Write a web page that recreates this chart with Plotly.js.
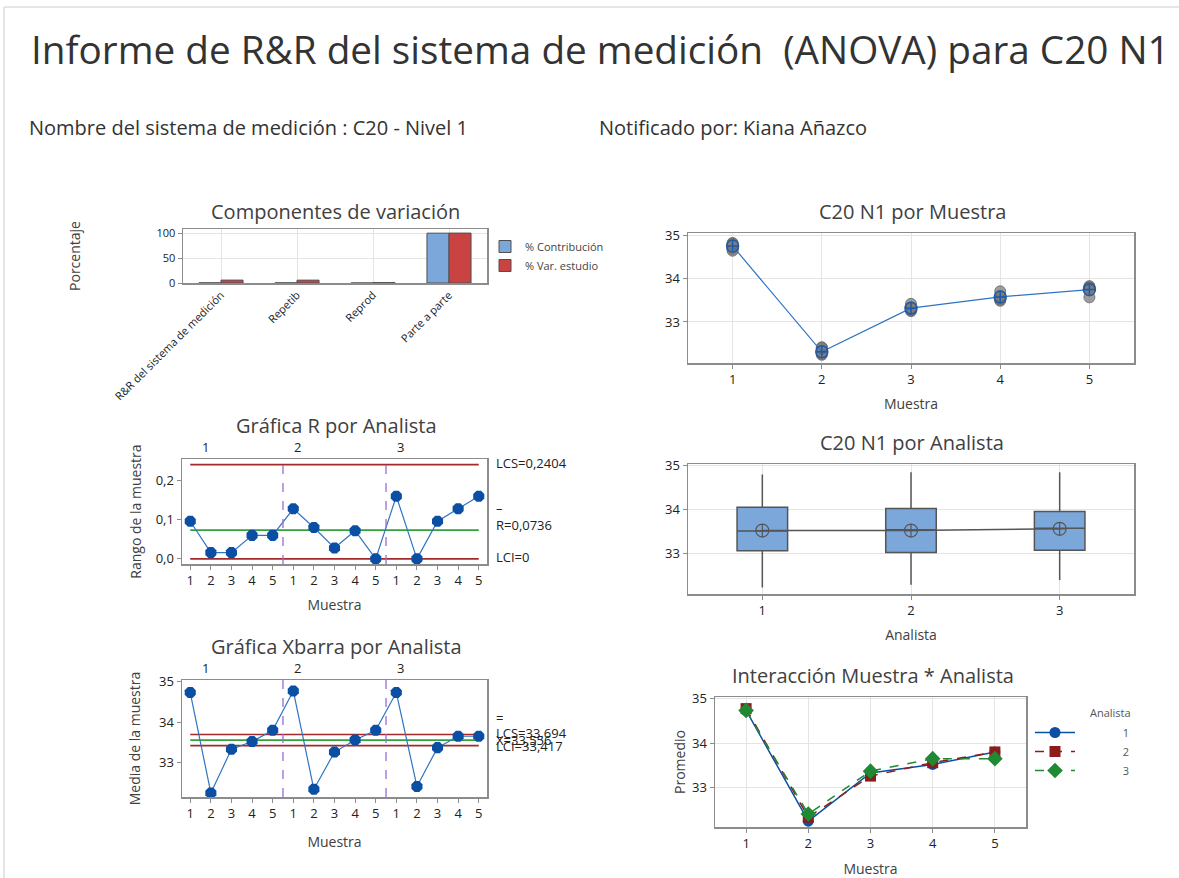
<!DOCTYPE html>
<html>
<head>
<meta charset="utf-8">
<script src="https://cdn.plot.ly/plotly-3.0.1.min.js"></script>
<style>
html,body{margin:0;padding:0;background:#fff;}
#chart{width:1179px;height:878px;}
</style>
</head>
<body>
<div id="chart"></div>
<script>
// ---------------- DATA ----------------
const componentes = ["R&R del sistema de medición", "Repetib", "Reprod", "Parte a parte"];
const pctContribucion = [0.34, 0.33, 0.01, 99.66];
const pctVarEstudio = [5.8, 5.7, 0.8, 99.83];

const muestras = [1, 2, 3, 4, 5];
const lecturasM1 = [34.68, 34.78, 34.71, 34.83, 34.65, 34.81];
const lecturasM2 = [32.24, 32.26, 32.30, 32.38, 32.41, 32.41];
const lecturasM3 = [33.32, 33.34, 33.25, 33.27, 33.32, 33.42];
const lecturasM4 = [33.49, 33.55, 33.52, 33.60, 33.59, 33.71];
const lecturasM5 = [33.77, 33.83, 33.80, 33.80, 33.57, 33.73];
const mediaPorMuestra = [34.76, 32.31, 33.32, 33.58, 33.75];

const etiquetasMuestra = ["1","2","3","4","5","1","2","3","4","5","1","2","3","4","5"];
const analistas = ["1", "2", "3"];
const rangoA1 = [0.096, 0.016, 0.016, 0.060, 0.060];
const rangoA2 = [0.128, 0.080, 0.028, 0.072, 0.000];
const rangoA3 = [0.160, 0.000, 0.096, 0.128, 0.160];
const rLCS = 0.2404, rMedia = 0.0736, rLCI = 0;

const mediaA1 = [34.73, 32.25, 33.33, 33.52, 33.80];
const mediaA2 = [34.77, 32.34, 33.26, 33.56, 33.80];
const mediaA3 = [34.73, 32.41, 33.37, 33.65, 33.65];
const xLCS = 33.694, xMedia = 33.556, xLCI = 33.417;

const boxQ1 = [33.07, 33.03, 33.08];
const boxMediana = [33.52, 33.55, 33.58];
const boxQ3 = [34.06, 34.03, 33.96];
const boxMin = [32.24, 32.30, 32.41];
const boxMax = [34.80, 34.85, 34.85];
const boxMedia = [33.53, 33.53, 33.57];

// ---------------- HELPERS ----------------
const W = 1179, H = 878;
const dX = (a, b) => [a / W, b / W];
const dY = (t, b) => [1 - b / H, 1 - t / H];
const FONT = "Open Sans, Noto Sans, sans-serif";
const TXT = "#404040";

function frame(extra) {
  return Object.assign({
    showline: true, mirror: true, linecolor: "#8c8c8c", linewidth: 1.5,
    ticks: "outside", ticklen: 4, tickcolor: "#8c8c8c",
    tickfont: {size: 13, color: "#222"}, zeroline: false, fixedrange: true,
    showgrid: false, gridcolor: "#e4e4e4", gridwidth: 1
  }, extra);
}

const idx15 = etiquetasMuestra.map((_, i) => i + 1);
const muestraRepetida = [].concat(
  lecturasM1.map(() => muestras[0]), lecturasM2.map(() => muestras[1]),
  lecturasM3.map(() => muestras[2]), lecturasM4.map(() => muestras[3]),
  lecturasM5.map(() => muestras[4]));
const lecturasTodas = [].concat(lecturasM1, lecturasM2, lecturasM3, lecturasM4, lecturasM5);

const blueM = "#0a4fa3", blueL = "#2f74c4";
const redL = "#a42a2a", greenL = "#33a03f", purple = "#9c6bd8";

// ---------------- TRACES ----------------
const traces = [];
// A: components
traces.push({type: "bar", x: componentes, y: pctContribucion, name: "% Contribución",
  marker: {color: "#7ba7da", line: {color: "#505050", width: 1}}, xaxis: "x", yaxis: "y", legend: "legend"});
traces.push({type: "bar", x: componentes, y: pctVarEstudio, name: "% Var. estudio",
  marker: {color: "#c94343", line: {color: "#505050", width: 1}}, xaxis: "x", yaxis: "y", legend: "legend"});

// B: by sample
traces.push({type: "scatter", mode: "markers", x: muestraRepetida, y: lecturasTodas,
  marker: {color: "rgba(125,125,125,0.75)", size: 11, line: {color: "rgba(100,100,100,0.8)", width: 1}},
  xaxis: "x2", yaxis: "y2", showlegend: false});
traces.push({type: "scatter", mode: "lines+markers", x: muestras, y: mediaPorMuestra,
  line: {color: blueL, width: 1.2},
  marker: {symbol: "circle-cross-open", size: 12, color: "#1d5aa8", line: {width: 1.5}},
  xaxis: "x2", yaxis: "y2", showlegend: false});

// C: R chart
const rAll = [].concat(rangoA1, rangoA2, rangoA3);
traces.push({type: "scatter", mode: "lines+markers", x: idx15, y: rAll,
  line: {color: blueL, width: 1.2}, marker: {symbol: "octagon", size: 12, color: blueM},
  xaxis: "x3", yaxis: "y3", showlegend: false});

// D: Xbar chart
const xAll = [].concat(mediaA1, mediaA2, mediaA3);
traces.push({type: "scatter", mode: "lines+markers", x: idx15, y: xAll,
  line: {color: blueL, width: 1.2}, marker: {symbol: "octagon", size: 12, color: blueM},
  xaxis: "x5", yaxis: "y5", showlegend: false});

// E: box plot by analyst
traces.push({type: "box", x: [1, 2, 3], q1: boxQ1, median: boxMediana, q3: boxQ3,
  lowerfence: boxMin, upperfence: boxMax, width: 0.34, whiskerwidth: 0,
  fillcolor: "#7ba7da", line: {color: "#555", width: 1.5}, boxpoints: false,
  xaxis: "x4", yaxis: "y4", showlegend: false, hoverinfo: "skip"});
traces.push({type: "scatter", mode: "lines+markers", x: [1, 2, 3], y: boxMedia,
  line: {color: "#555", width: 1.5},
  marker: {symbol: "circle-cross-open", size: 13, color: "#555", line: {width: 1.2}},
  xaxis: "x4", yaxis: "y4", showlegend: false});

// F: interaction
const pad = "\u00a0".repeat(15);
traces.push({type: "scatter", mode: "lines+markers", x: muestras, y: mediaA1, name: pad + analistas[0],
  line: {color: blueM, width: 1.5}, marker: {symbol: "circle", size: 11, color: blueM},
  xaxis: "x6", yaxis: "y6", legend: "legend2"});
traces.push({type: "scatter", mode: "lines+markers", x: muestras, y: mediaA2, name: pad + analistas[1],
  line: {color: "#8e1b1b", width: 1.5, dash: "dash"}, marker: {symbol: "square", size: 11, color: "#8e1b1b"},
  xaxis: "x6", yaxis: "y6", legend: "legend2"});
traces.push({type: "scatter", mode: "lines+markers", x: muestras, y: mediaA3, name: pad + analistas[2],
  line: {color: "#1f8a33", width: 1.5, dash: "dash"}, marker: {symbol: "diamond", size: 12, color: "#1f8a33"},
  xaxis: "x6", yaxis: "y6", legend: "legend2"});

// ---------------- SHAPES / ANNOTATIONS ----------------
const shapes = [
  {type: "line", xref: "paper", yref: "paper", x0: 4 / W, x1: 1, y0: 1 - 7 / H, y1: 1 - 7 / H, line: {color: "#dcdcdc", width: 1.5}},
  {type: "line", xref: "paper", yref: "paper", x0: 4 / W, x1: 4 / W, y0: 0, y1: 1 - 7 / H, line: {color: "#dcdcdc", width: 1.5}}
];
function ctrlLine(xr, yr, y, color) {
  shapes.push({type: "line", xref: xr, yref: yr, x0: idx15[0], x1: idx15[idx15.length - 1], y0: y, y1: y,
    line: {color: color, width: 1.7}, layer: "below"});
}
ctrlLine("x3", "y3", rLCS, redL); ctrlLine("x3", "y3", rMedia, greenL); ctrlLine("x3", "y3", rLCI, redL);
ctrlLine("x5", "y5", xLCS, redL); ctrlLine("x5", "y5", xMedia, greenL); ctrlLine("x5", "y5", xLCI, redL);
[5.5, 10.5].forEach(v => {
  ["3", "5"].forEach(k => shapes.push({type: "line", xref: "x" + k, yref: "y" + k + " domain", x0: v, x1: v, y0: 0, y1: 1,
    line: {color: purple, width: 1.3, dash: "dash"}}));
});

const annotations = [];
function ann(text, x, y, opts) {
  annotations.push(Object.assign({text: text, x: x / W, y: 1 - y / H, xref: "paper", yref: "paper",
    showarrow: false, font: {size: 20, color: TXT, family: FONT}, xanchor: "center", yanchor: "middle"}, opts || {}));
}
ann("Nombre del sistema de medición : C20 - Nivel 1", 27, 127, {xanchor: "left", font: {size: 20, color: "#333", family: FONT}});
ann("Notificado por: Kiana Añazco", 597, 127, {xanchor: "left", font: {size: 20, color: "#333", family: FONT}});
ann("Componentes de variación", 335, 211);
ann("C20 N1 por Muestra", 912, 211);
ann("Gráfica R por Analista", 336, 425);
ann("C20 N1 por Analista", 912, 442);
ann("Gráfica Xbarra por Analista", 336, 646);
ann("Interacción Muestra * Analista", 873, 675);
ann("Analista", 1110, 712, {font: {size: 11, color: "#555", family: FONT}});

// group labels over control charts
[["3", 1.72], ["3", 6.2], ["3", 11.2], ["5", 1.72], ["5", 6.2], ["5", 11.2]].forEach((p, i) => {
  annotations.push({text: analistas[i % 3], x: p[1], y: 1, xref: "x" + p[0], yref: "y" + p[0] + " domain",
    yanchor: "bottom", yshift: 1, showarrow: false, font: {size: 13, color: "#222", family: FONT}});
});
function limLabel(text, k, y, yshift) {
  annotations.push({text: text, x: 494 / W, xref: "paper", y: y, yref: "y" + k, xanchor: "left", yanchor: "middle",
    yshift: yshift || 0, showarrow: false, font: {size: 13, color: "#222", family: FONT}});
}
limLabel("LCS=0,2404", "3", rLCS, 2);
limLabel("–", "3", rMedia, 22);
limLabel("R=0,0736", "3", rMedia, 5);
limLabel("LCI=0", "3", rLCI, 2);
limLabel("=", "5", xMedia, 22);
limLabel("LCS=33,694", "5", xLCS, 1);
limLabel("X=33,556", "5", xMedia);
limLabel("LCI=33,417", "5", xLCI);

// ---------------- LAYOUT ----------------
const layout = {
  width: W, height: H, margin: {l: 0, r: 0, t: 0, b: 0},
  paper_bgcolor: "#fff", plot_bgcolor: "#fff",
  font: {family: FONT, color: TXT},
  separators: ",.",
  hovermode: false,
  barmode: "group", bargap: 0.42, bargroupgap: 0,
  title: {text: "Informe de R&R del sistema de medición  (ANOVA) para C20 N1", x: 31 / W, xanchor: "left",
    y: 1 - 50 / H, yanchor: "middle", font: {size: 38.7, color: "#333", family: FONT}},
  showlegend: true,
  legend: {x: 485 / W, y: 1 - 232 / H, xanchor: "left", yanchor: "top", bgcolor: "rgba(0,0,0,0)",
    font: {size: 11, color: "#444"}, tracegroupgap: 0, itemwidth: 30},
  legend2: {x: 1030 / W, y: 1 - 718 / H, xanchor: "left", yanchor: "top", bgcolor: "rgba(0,0,0,0)",
    font: {size: 11, color: "#555"}, itemwidth: 40},
  xaxis: frame({domain: dX(183, 487), anchor: "y", type: "category", range: [-0.5, 3.5], showgrid: true,
    tickangle: -45, tickfont: {size: 11, color: "#222"}, ticks: ""}),
  yaxis: frame({domain: dY(229, 283), anchor: "x", range: [0, 108], tickvals: [0, 50, 100], showgrid: true,
    tickfont: {size: 11, color: "#222"}, title: {text: "Porcentaje", standoff: 72, font: {size: 14, color: TXT}}}),
  xaxis2: frame({domain: dX(688, 1134), anchor: "y2", range: [0.5, 5.5], tickvals: muestras, showgrid: true,
    title: {text: "Muestra", standoff: 12, font: {size: 14, color: TXT}}}),
  yaxis2: frame({domain: dY(233, 363), anchor: "x2", range: [32.05, 35.06], tickvals: [33, 34, 35], showgrid: true}),
  xaxis3: frame({domain: dX(182, 487), anchor: "y3", range: [0.6, 15.4], tickvals: idx15, ticktext: etiquetasMuestra,
    title: {text: "Muestra", standoff: 12, font: {size: 14, color: TXT}}}),
  yaxis3: frame({domain: dY(459, 564), anchor: "x3", range: [-0.013, 0.255], tickvals: [0, 0.1, 0.2], tickformat: ".1f",
    title: {text: "Rango de la muestra", standoff: 11, font: {size: 14, color: TXT}}}),
  xaxis4: frame({domain: dX(688, 1134), anchor: "y4", range: [0.5, 3.5], tickvals: [1, 2, 3], ticktext: analistas, showgrid: true,
    title: {text: "Analista", standoff: 12, font: {size: 14, color: TXT}}}),
  yaxis4: frame({domain: dY(464, 594), anchor: "x4", range: [32.09, 35.04], tickvals: [33, 34, 35], showgrid: true}),
  xaxis5: frame({domain: dX(182, 487), anchor: "y5", range: [0.6, 15.4], tickvals: idx15, ticktext: etiquetasMuestra,
    title: {text: "Muestra", standoff: 16, font: {size: 14, color: TXT}}}),
  yaxis5: frame({domain: dY(680, 797), anchor: "x5", range: [32.15, 35.04], tickvals: [33, 34, 35],
    title: {text: "Media de la muestra", standoff: 15, font: {size: 14, color: TXT}}}),
  xaxis6: frame({domain: dX(715, 1026), anchor: "y6", range: [0.5, 5.5], tickvals: muestras, showgrid: true,
    title: {text: "Muestra", standoff: 14, font: {size: 14, color: TXT}}}),
  yaxis6: frame({domain: dY(697, 827), anchor: "x6", range: [32.12, 35.03], tickvals: [33, 34, 35], showgrid: true,
    title: {text: "Promedio", standoff: 3, font: {size: 14, color: TXT}}}),
  shapes: shapes,
  annotations: annotations
};

Plotly.newPlot("chart", traces, layout, {displayModeBar: false, staticPlot: true});
</script>
</body>
</html>
